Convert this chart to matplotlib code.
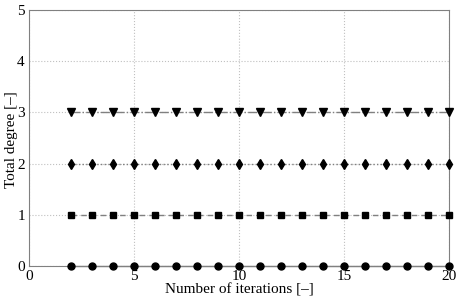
import matplotlib
matplotlib.use("Agg")
import matplotlib.pyplot as plt
import numpy as np

plt.rcParams['font.family'] = ['Liberation Serif', 'DejaVu Serif']

iterations = list(range(2, 21))
series_0 = [0] * len(iterations)
series_1 = [1] * len(iterations)
series_2 = [2] * len(iterations)
series_3 = [3] * len(iterations)

fig = plt.figure(figsize=(4.57, 2.99), dpi=100)
ax = fig.add_axes([29/457, 33/299, 420/457, 256/299])

lc = '#808080'
ax.plot(iterations, series_0, linestyle='-', color=lc, linewidth=1.0,
        marker='o', markersize=5, markerfacecolor='k', markeredgecolor='k', clip_on=False, zorder=3)
ax.plot(iterations, series_1, linestyle='--', color=lc, linewidth=1.0, dashes=(4, 3),
        marker='s', markersize=4, markerfacecolor='k', markeredgecolor='k', clip_on=False, zorder=3)
ax.plot(iterations, series_2, linestyle=':', color=lc, linewidth=1.0,
        marker='d', markersize=5.5, markerfacecolor='k', markeredgecolor='k', clip_on=False, zorder=3)
ax.plot(iterations, series_3, linestyle='-.', color=lc, linewidth=1.0,
        marker='v', markersize=5.5, markerfacecolor='k', markeredgecolor='k', clip_on=False, zorder=3)

ax.set_xlim(0, 20)
ax.set_ylim(0, 5)
ax.set_xticks([0, 5, 10, 15, 20])
ax.set_yticks([0, 1, 2, 3, 4, 5])
ax.grid(True, linestyle=':', color='#c0c0c0', linewidth=0.8)
for s in ax.spines.values():
    s.set_color('#808080')
ax.tick_params(direction='in', length=0, labelcolor='k', labelsize=11, pad=3)
ax.set_xlabel('Number of iterations [\u2013]', fontsize=11, labelpad=0)
fig.text(12/457, 1 - 140/299, 'Total degree [\u2013]', fontsize=11,
         rotation=90, ha='center', va='center')

fig.savefig('out.png', dpi=100)
